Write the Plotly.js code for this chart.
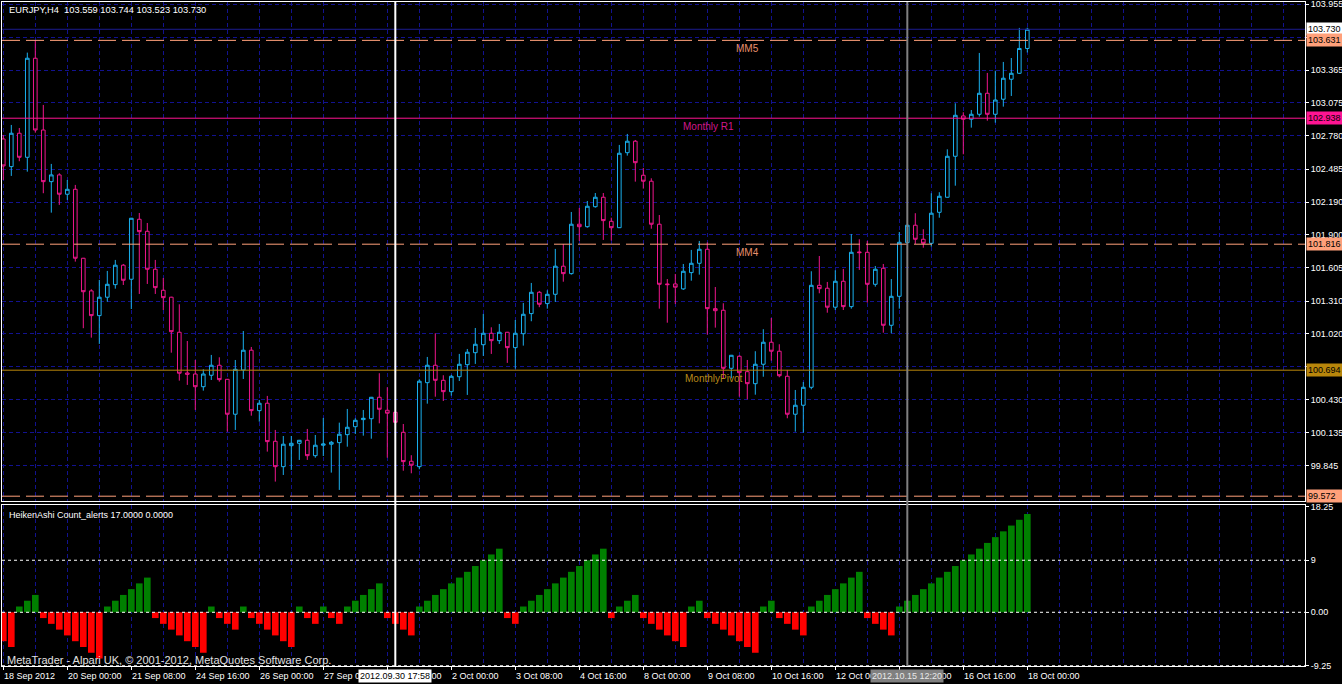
<!DOCTYPE html>
<html><head><meta charset="utf-8">
<script src="https://cdn.plot.ly/plotly-3.0.1.min.js"></script>
<style>html,body{margin:0;padding:0;background:#000;}#chart{width:1342px;height:684px;}</style>
</head><body><div id="chart"></div>
<script>
const symbol = 'EURJPY,H4';
const open = [
102.753,102.507,102.804,102.590,103.472,102.833,102.373,102.433,102.261,102.305,
101.691,101.400,101.180,101.344,101.456,101.629,101.504,102.038,101.931,101.593,
101.406,101.344,101.032,100.669,100.660,100.547,100.649,100.738,100.613,100.302,
100.696,100.872,100.334,100.400,100.061,99.835,100.022,100.043,100.070,99.933,
100.026,100.035,100.049,100.120,100.191,100.254,100.262,100.453,100.337,100.319,
100.141,99.883,99.835,100.583,100.738,100.604,100.503,100.636,100.743,100.850,
100.921,101.023,100.957,101.032,100.895,101.019,101.198,101.388,101.287,101.370,
101.620,101.554,101.994,101.972,102.150,102.234,102.020,101.963,102.631,102.733,
102.430,102.377,101.994,101.462,101.462,101.418,101.563,101.646,101.771,101.242,
101.228,100.711,100.818,100.681,100.574,100.747,100.943,100.863,100.640,100.302,
100.382,100.542,101.450,101.424,101.255,101.486,101.260,101.747,101.744,101.459,
101.602,101.094,101.352,101.830,101.985,101.860,101.824,102.100,102.234,102.599,
102.958,102.929,102.973,103.160,102.973,103.107,103.285,103.338,103.559];
const high = [
102.789,102.878,102.851,103.522,103.631,103.056,102.531,102.448,102.388,102.344,
101.694,101.415,101.498,101.578,101.676,101.640,102.050,102.094,102.005,101.676,
101.515,101.348,101.281,100.954,100.785,100.702,100.830,100.809,100.616,100.785,
101.043,100.901,100.429,100.465,100.162,100.108,100.108,100.073,100.171,100.117,
100.269,100.064,100.227,100.349,100.266,100.340,100.456,100.667,100.542,100.322,
100.215,99.937,100.613,100.812,101.023,100.649,100.652,100.839,100.883,101.070,
101.195,101.076,101.106,101.035,101.141,101.293,101.471,101.400,101.406,101.774,
101.818,102.103,102.139,102.201,102.272,102.272,102.052,102.700,102.798,102.744,
102.495,102.403,102.076,101.506,101.551,101.640,101.765,101.845,101.833,101.435,
101.290,100.830,100.827,100.785,100.863,101.059,101.159,100.925,100.696,100.518,
100.589,101.575,101.711,101.480,101.584,101.596,101.907,101.860,101.845,101.622,
101.640,101.506,101.925,101.990,102.092,101.949,102.270,102.279,102.661,103.071,
102.991,103.011,103.519,103.341,103.361,103.439,103.474,103.742,103.744];
const low = [
102.388,102.424,102.555,102.462,102.809,102.270,102.097,102.166,102.210,101.661,
101.068,100.984,100.928,101.304,101.420,101.453,101.239,101.373,101.462,101.373,
101.230,100.850,100.601,100.563,100.340,100.512,100.607,100.592,100.147,100.162,
100.616,100.289,100.236,99.969,99.702,99.761,99.806,99.895,99.895,99.915,
99.930,99.782,99.628,100.013,100.126,100.111,100.084,100.221,99.915,100.224,
99.799,99.776,99.812,100.396,100.458,100.420,100.467,100.598,100.474,100.750,
100.821,100.839,100.928,100.759,100.708,100.913,101.130,101.255,101.242,101.302,
101.482,101.545,101.845,101.963,102.141,101.854,101.848,101.960,102.605,102.373,
102.311,101.954,101.242,101.117,101.284,101.409,101.491,101.545,101.011,101.073,
100.622,100.622,100.458,100.435,100.476,100.636,100.779,100.631,100.266,100.147,
100.138,100.524,101.379,101.206,101.230,101.230,101.242,101.587,101.296,101.438,
101.028,101.023,101.242,101.827,101.818,101.785,101.794,102.052,102.231,102.337,
102.617,102.854,102.952,102.916,102.898,103.041,103.136,103.332,103.523];
const close = [
102.513,102.804,102.590,103.472,102.833,102.373,102.433,102.261,102.305,101.691,
101.393,101.180,101.344,101.459,101.629,101.495,102.047,101.928,101.593,101.429,
101.340,101.037,100.667,100.658,100.547,100.660,100.738,100.610,100.302,100.702,
100.872,100.334,100.400,100.058,99.835,100.035,100.043,100.070,99.933,100.026,
100.037,100.052,100.124,100.186,100.248,100.266,100.453,100.346,100.311,100.230,
99.880,99.848,100.596,100.738,100.604,100.503,100.640,100.747,100.854,100.925,
101.023,100.957,101.032,100.895,101.023,101.192,101.388,101.281,101.370,101.620,
101.554,101.994,101.972,102.154,102.234,102.026,101.963,102.626,102.733,102.542,
102.377,101.994,101.459,101.456,101.433,101.575,101.646,101.771,101.242,101.224,
100.711,100.827,100.672,100.574,100.747,100.943,100.863,100.645,100.302,100.382,
100.542,101.450,101.420,101.255,101.486,101.260,101.744,101.741,101.459,101.593,
101.094,101.352,101.833,101.985,101.860,101.824,102.092,102.243,102.599,102.964,
102.929,102.973,103.160,102.973,103.100,103.294,103.338,103.559,103.730];
const haCount = [
-5,-6,1,2,3,-1,-2,-3,-4,-5,-6,-7,-8,1,2,3,4,5,6,-1,
-2,-3,-4,-5,-6,-7,1,-1,-2,-3,1,-1,-2,-3,-4,-5,-6,1,-1,-2,
1,-1,-2,1,2,3,4,5,-1,-2,-3,-4,1,2,3,4,5,6,7,8,
9,10,11,-1,-2,1,2,3,4,5,6,7,8,9,10,11,-1,1,2,3,
-1,-2,-3,-4,-5,-6,1,2,-1,-2,-3,-4,-5,-6,-7,1,2,-1,-2,-3,
-4,1,2,3,4,5,6,7,-1,-2,-3,-4,1,2,3,4,5,6,7,8,
9,10,11,12,13,14,15,16,17];
const xTickBars = [0,8,16,24,32,40,48,56,64,72,80,88,96,104,112,120,128];
const xTickText = ['18 Sep 2012','20 Sep 00:00','21 Sep 08:00','24 Sep 16:00','26 Sep 00:00','27 Sep 08:00','28 Sep 16:00','2 Oct 00:00','3 Oct 08:00','4 Oct 16:00','8 Oct 00:00','9 Oct 08:00','10 Oct 16:00','12 Oct 00:00','15 Oct 08:00','16 Oct 16:00','18 Oct 00:00'];
const priceTicks = [103.955,103.660,103.365,103.075,102.780,102.485,102.190,101.900,101.605,101.310,101.020,100.725,100.430,100.135,99.845];
const levelNames = ['MM5','Monthly R1','MM4','MonthlyPivot','MM3'];
const levelPrices = [103.631,102.938,101.816,100.694,99.572];
const indTicks = [18.25,9,0,-9.25];
const indTickText = ['18.25','9','0.00','-9.25'];
const indLevels = [9,0,-9.25];
const vLineBars = [49,113];
const vLineText = ['2012.09.30 17:58','2012.10.15 12:20'];
const indName = 'HeikenAshi Count_alerts';
const indValues = ['17.0000','0.0000'];
const copyright = 'MetaTrader - Alpari UK, \u00a9 2001-2012, MetaQuotes Software Corp.';

const BULL = '#1ab0ee', BEAR = '#f0168c', GRID = '#121290';
const SALMON = '#ffa07a', PINK = '#ff1493', GOLD = '#b8860b';
const FONT = 'Liberation Sans, Arial, sans-serif';
const idx = open.map((_, i) => i);
const last = open.length - 1;

// pixel -> paper helpers for layout placement (plot area: x 2..1305, y 2..666)
const PX = x => (x - 2) / 1303;
const PY = y => (666 - y) / 664;

const traces = [
  {type:'candlestick', x: idx, open, high, low, close, xaxis:'x', yaxis:'y',
   increasing:{line:{color:BULL,width:1}, fillcolor:'#000'},
   decreasing:{line:{color:BEAR,width:1}, fillcolor:'#000'},
   whiskerwidth:0, hoverinfo:'skip'},
  {type:'bar', x: idx, y: haCount, xaxis:'x2', yaxis:'y2',
   marker:{color: haCount.map(v => v > 0 ? '#008000' : '#ff0000'), line:{width:0}},
   hoverinfo:'skip'}
];

const levelStyle = [
  {color:SALMON, dash:'18px,6px', text:'#e8906c'},
  {color:PINK, dash:'solid', text:'#d0188a'},
  {color:SALMON, dash:'18px,6px', text:'#e8906c'},
  {color:GOLD, dash:'solid', text:'#b88a1a'},
  {color:SALMON, dash:'18px,6px', text:'#e8906c'}
];
const levelBoxBg = [SALMON, PINK, SALMON, GOLD, SALMON];

const shapes = [];
const annotations = [];
// bid line
shapes.push({type:'line', xref:'paper', x0:0, x1:1, yref:'y', y0:close[last], y1:close[last], line:{color:'#1c1c90', width:1}});
levelPrices.forEach((p, i) => {
  shapes.push({type:'line', xref:'paper', x0:0, x1:1, yref:'y', y0:p, y1:p, line:{color:levelStyle[i].color, width:1, dash:levelStyle[i].dash}});
});
indLevels.forEach(v => {
  shapes.push({type:'line', xref:'paper', x0:0, x1:1, yref:'y2', y0:v, y1:v, line:{color:'#ffffff', width:1, dash:'3px,3px'}});
});
shapes.push({type:'line', xref:'x', x0:vLineBars[0], x1:vLineBars[0], yref:'paper', y0:0, y1:1, line:{color:'#ffffff', width:2}});
shapes.push({type:'line', xref:'x', x0:vLineBars[1], x1:vLineBars[1], yref:'paper', y0:0, y1:1, line:{color:'#808080', width:2}});

// level labels
const levelLabelX = [PX(747), PX(708), PX(747), PX(713), PX(747)];
levelNames.forEach((n, i) => {
  if (i === 4) return;
  annotations.push({xref:'paper', x:levelLabelX[i], xanchor:'center', yref:'y', y:levelPrices[i], yanchor:'top', yshift:-1,
    text:n, showarrow:false, font:{family:FONT, size:10, color:levelStyle[i].text}});
});
// right price boxes
const boxes = [[close[last], '#ffffff']].concat(levelPrices.map((p, i) => [p, levelBoxBg[i]]));
boxes.forEach(([p, bg]) => {
  annotations.push({xref:'paper', x:1, xanchor:'left', xshift:1, yref:'y', y:p, yanchor:'middle',
    text:p.toFixed(3), showarrow:false, bgcolor:bg, borderpad:1, width:34, align:'left',
    font:{family:FONT, size:9, color:'#000'}});
});
// header
annotations.push({xref:'paper', x:PX(7), xanchor:'left', yref:'paper', y:PY(10), yanchor:'middle',
  text: symbol + '  ' + [open[last], high[last], low[last], close[last]].map(v => v.toFixed(3)).join(' '),
  showarrow:false, font:{family:FONT, size:9.3, color:'#ffffff'}});
annotations.push({xref:'paper', x:PX(7), xanchor:'left', yref:'paper', y:PY(515), yanchor:'middle',
  text: indName + ' ' + indValues.join(' '), showarrow:false, font:{family:FONT, size:9, color:'#ffffff'}});
annotations.push({xref:'paper', x:PX(5), xanchor:'left', yref:'paper', y:PY(660), yanchor:'middle',
  text: copyright, showarrow:false, font:{family:FONT, size:11, color:'#e0e0e0'}});
// x tick labels
xTickBars.forEach((b, i) => {
  annotations.push({xref:'x2', x:b, xanchor:'left', xshift:-1, yref:'paper', y:PY(676), yanchor:'middle',
    text:xTickText[i], showarrow:false, font:{family:FONT, size:9, color:'#ffffff'}});
});
// vertical line time boxes
annotations.push({xref:'x2', x:vLineBars[0], xanchor:'center', yref:'paper', y:PY(676), yanchor:'middle',
  text:vLineText[0], showarrow:false, bgcolor:'#ffffff', borderpad:1, font:{family:FONT, size:9, color:'#000'}});
annotations.push({xref:'x2', x:vLineBars[1], xanchor:'center', yref:'paper', y:PY(676), yanchor:'middle',
  text:vLineText[1], showarrow:false, bgcolor:'#808080', borderpad:1, font:{family:FONT, size:9, color:'#e8e8e8'}});

const xGrid = {showgrid:true, gridcolor:GRID, griddash:'4px,3px', gridwidth:1,
  tickmode:'array', tickvals:xTickBars, ticktext:xTickBars.map(() => ''),
  minor:{tick0:0, dtick:4, showgrid:true, gridcolor:GRID, griddash:'4px,3px', gridwidth:1, ticks:''}};
const xr = [-0.1625, 162.71];

const layout = {
  width:1342, height:684, margin:{l:2, r:37, t:2, b:18, pad:0},
  paper_bgcolor:'#000', plot_bgcolor:'#000', showlegend:false, bargap:0.17,
  boxgap:0.35,
  font:{family:FONT, size:9, color:'#fff'},
  xaxis:Object.assign({domain:[0,1], anchor:'y', range:xr, showline:true, linecolor:'#fff', linewidth:1, mirror:true,
    ticks:'', showticklabels:false, zeroline:false, rangeslider:{visible:false}, fixedrange:true}, xGrid),
  yaxis:{domain:[0.2485,1], anchor:'x', side:'right', range:[99.5293, 103.9728], tickmode:'array', tickvals:priceTicks,
    ticktext:priceTicks.map(v => v.toFixed(3)), ticks:'outside', ticklen:3, tickcolor:'#fff', showline:true, linecolor:'#fff',
    mirror:true, showgrid:true, gridcolor:GRID, griddash:'4px,3px', zeroline:false, fixedrange:true,
    ticklabeloverflow:'allow', tickfont:{family:FONT, size:9, color:'#ffffff'}},
  xaxis2:Object.assign({domain:[0,1], anchor:'y2', range:xr, showline:true, linecolor:'#fff', linewidth:1, mirror:true,
    ticks:'outside', ticklen:3, tickcolor:'#fff', showticklabels:false, zeroline:false, fixedrange:true}, xGrid),
  yaxis2:{domain:[0,0.2425], anchor:'x2', side:'right', range:[-9.29, 18.56], tickmode:'array', tickvals:indTicks,
    ticktext:indTickText, ticks:'outside', ticklen:3, tickcolor:'#fff', showline:true, linecolor:'#fff', mirror:true,
    showgrid:false, zeroline:false, fixedrange:true, ticklabeloverflow:'allow', tickfont:{family:FONT, size:9, color:'#ffffff'}},
  shapes, annotations
};
Plotly.newPlot('chart', traces, layout, {staticPlot:true, displayModeBar:false});
</script></body></html>
